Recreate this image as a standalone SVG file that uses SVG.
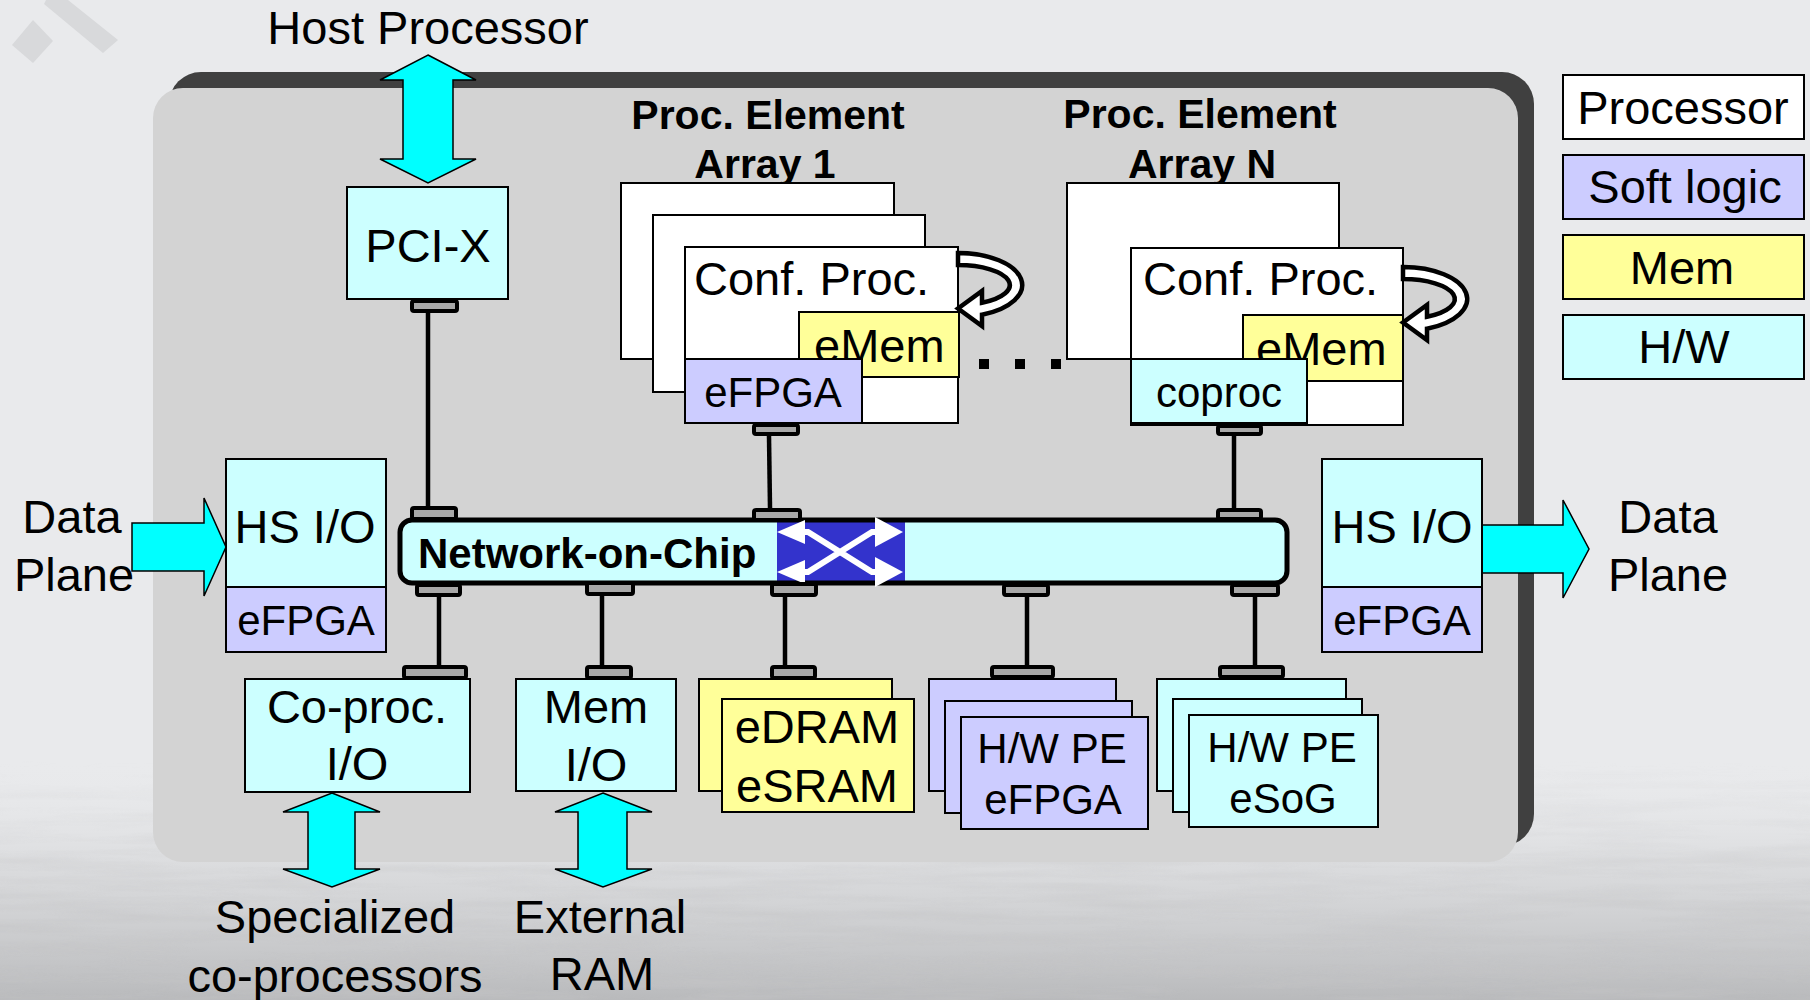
<svg xmlns="http://www.w3.org/2000/svg" width="1810" height="1000" viewBox="0 0 1810 1000">
<defs>
<style>
.t{font-family:"Liberation Sans",Arial,sans-serif;font-size:47px;fill:#000}
.m{text-anchor:middle}
.s{font-size:42px}
.b{font-weight:bold;font-size:41px}
.box{stroke:#000;stroke-width:2}
.w{fill:#fff}
.hw{fill:#ccffff}
.sl{fill:#ccccff}
.mem{fill:#ffff99}
.arr{fill:#00ffff;stroke:#000;stroke-width:1.5;stroke-linejoin:miter}
.ln{stroke:#000;stroke-width:4.5;fill:none}
.port{fill:#a8a8a8;stroke:#000;stroke-width:4}
.loop{fill:#fff;stroke:#000;stroke-width:4.5;stroke-linejoin:miter}
</style>
<linearGradient id="bgfade" x1="0" y1="0" x2="0" y2="1">
<stop offset="0" stop-color="#e9eaec" stop-opacity="0"/>
<stop offset="0.45" stop-color="#d4d5d7" stop-opacity="0.7"/>
<stop offset="1" stop-color="#b9babc" stop-opacity="1"/>
</linearGradient>
<filter id="noise" x="0" y="0" width="1" height="1">
<feTurbulence type="fractalNoise" baseFrequency="0.006 0.09" numOctaves="3" seed="7"/>
<feColorMatrix type="matrix" values="0 0 0 0 0.55  0 0 0 0 0.55  0 0 0 0 0.56  0 0 0 1.4 -0.55"/>
</filter>
<linearGradient id="nfade" x1="0" y1="0" x2="0" y2="1">
<stop offset="0" stop-color="#fff" stop-opacity="0"/>
<stop offset="1" stop-color="#fff" stop-opacity="1"/>
</linearGradient>
<mask id="nmask"><rect x="0" y="760" width="1810" height="240" fill="url(#nfade)"/></mask>
<path id="loopshape" class="loop" d="M958,253 A64,32 0 0 1 982,314.7 L982,326 L958,308.5 L982,291 L982,302.7 A52,20 0 0 0 958,265 Z"/>
</defs>

<!-- background -->
<rect x="0" y="0" width="1810" height="1000" fill="#e9eaec"/>
<rect x="0" y="760" width="1810" height="240" fill="url(#bgfade)"/>
<rect x="0" y="760" width="1810" height="240" filter="url(#noise)" mask="url(#nmask)"/>
<polygon points="12,45 33,20 53,41 33,63" fill="#d8d9db"/>
<polygon points="46,0 68,0 118,40 103,53 44,4" fill="#d8d9db"/>

<!-- chip panel -->
<g id="chip">
<rect x="169" y="72" width="1365" height="774" rx="32" fill="#404040"/>
<rect x="153" y="88" width="1365" height="774" rx="30" fill="#d3d3d3"/>
</g>

<!-- connectors -->
<g id="connectors">
<line class="ln" x1="428" y1="313" x2="428" y2="508"/>
<line class="ln" x1="769" y1="436" x2="770" y2="508"/>
<line class="ln" x1="1234" y1="436" x2="1234" y2="508"/>
<line class="ln" x1="439" y1="597" x2="439" y2="666"/>
<line class="ln" x1="602" y1="596" x2="602" y2="666"/>
<line class="ln" x1="785" y1="597" x2="785" y2="666"/>
<line class="ln" x1="1027" y1="597" x2="1027" y2="666"/>
<line class="ln" x1="1255" y1="597" x2="1255" y2="666"/>
</g>

<!-- Host processor -->
<g id="host">
<text class="t m" x="428" y="44">Host Processor</text>
<polygon class="arr" points="428,55 476,80 453,80 453,159 476,159 428,183 380,159 403,159 403,80 380,80"/>
</g>

<g id="pcix">
<rect class="box hw" x="347" y="187" width="161" height="112"/>
<text class="t m" x="428" y="262">PCI-X</text>
</g>

<!-- PE array 1 -->
<g id="pe-array-1">
<text class="t b m" x="768" y="129">Proc. Element</text>
<text class="t b m" x="765" y="178">Array 1</text>
<rect class="box w" x="621" y="183" width="273" height="176"/>
<rect class="box w" x="653" y="215" width="272" height="177"/>
<rect class="box w" x="685" y="247" width="273" height="176"/>
<text class="t" x="694" y="295">Conf. Proc.</text>
<rect class="box mem" x="799" y="312" width="160" height="65"/>
<text class="t" x="814" y="362">eMem</text>
<rect class="box sl" x="685" y="359" width="177" height="64"/>
<text class="t s m" x="773" y="407">eFPGA</text>
<use href="#loopshape"/>
</g>

<g id="dots">
<rect x="979" y="359" width="10" height="10" fill="#000"/>
<rect x="1015" y="359" width="10" height="10" fill="#000"/>
<rect x="1051" y="359" width="10" height="10" fill="#000"/>
</g>

<!-- PE array N -->
<g id="pe-array-n">
<text class="t b m" x="1200" y="128">Proc. Element</text>
<text class="t b m" x="1202" y="178">Array N</text>
<rect class="box w" x="1067" y="183" width="272" height="176"/>
<rect class="box w" x="1131" y="248" width="272" height="177"/>
<text class="t" x="1143" y="295">Conf. Proc.</text>
<rect class="box mem" x="1243" y="315" width="160" height="66"/>
<text class="t" x="1256" y="365">eMem</text>
<rect class="box hw" x="1131" y="359" width="176" height="64"/>
<text class="t s m" x="1219" y="407">coproc</text>
<use href="#loopshape" transform="translate(445,14)"/>
</g>

<!-- Network on chip -->
<g id="noc">
<rect x="400" y="520" width="887" height="63" rx="12" fill="#ccffff"/>
<rect x="777" y="522" width="128" height="61" fill="#3333cc"/>
<rect x="400" y="520" width="887" height="63" rx="12" fill="none" stroke="#000" stroke-width="5"/>
<path d="M790,532 H808 L872,572 H890 M790,572 H808 L872,532 H890" fill="none" stroke="#fff" stroke-width="6"/>
<polygon points="777,532 805,520 805,544" fill="#fff"/>
<polygon points="777,572 805,560 805,584" fill="#fff"/>
<polygon points="903,532 875,517 875,547" fill="#fff"/>
<polygon points="903,572 875,557 875,587" fill="#fff"/>
<text class="t" x="418" y="568" style="font-weight:bold;font-size:42px">Network-on-Chip</text>
</g>

<!-- ports -->
<g id="ports">
<rect class="port" x="412" y="301" width="45" height="10" rx="2"/>
<rect class="port" x="412" y="508" width="44" height="11" rx="2"/>
<rect class="port" x="754" y="425" width="44" height="9" rx="2"/>
<rect class="port" x="754" y="510" width="46" height="10" rx="2"/>
<rect class="port" x="1218" y="426" width="43" height="8" rx="2"/>
<rect class="port" x="1218" y="510" width="43" height="9" rx="2"/>
<rect class="port" x="417" y="585" width="43" height="10" rx="2"/>
<rect class="port" x="404" y="667" width="62" height="11" rx="2"/>
<rect class="port" x="587" y="583" width="46" height="11" rx="2"/>
<rect class="port" x="587" y="667" width="44" height="11" rx="2"/>
<rect class="port" x="772" y="584" width="44" height="11" rx="2"/>
<rect class="port" x="772" y="667" width="43" height="11" rx="2"/>
<rect class="port" x="1004" y="585" width="44" height="10" rx="2"/>
<rect class="port" x="992" y="667" width="61" height="10" rx="2"/>
<rect class="port" x="1232" y="585" width="46" height="10" rx="2"/>
<rect class="port" x="1220" y="667" width="63" height="10" rx="2"/>
</g>

<!-- HS I/O left -->
<g id="hsio-left">
<polygon class="arr" points="132,523 204,523 204,498 226,547 204,596 204,571 132,571"/>
<rect class="box hw" x="226" y="459" width="160" height="128"/>
<rect class="box sl" x="226" y="587" width="160" height="65"/>
<text class="t m" x="305" y="543">HS I/O</text>
<text class="t s m" x="306" y="635">eFPGA</text>
<text class="t m" x="72" y="533">Data</text>
<text class="t m" x="74" y="591">Plane</text>
</g>

<!-- HS I/O right -->
<g id="hsio-right">
<polygon class="arr" points="1482,525 1563,525 1563,500 1589,549 1563,598 1563,573 1482,573"/>
<rect class="box hw" x="1322" y="459" width="160" height="128"/>
<rect class="box sl" x="1322" y="587" width="160" height="65"/>
<text class="t m" x="1402" y="543">HS I/O</text>
<text class="t s m" x="1402" y="635">eFPGA</text>
<text class="t m" x="1668" y="533">Data</text>
<text class="t m" x="1668" y="591">Plane</text>
</g>

<!-- bottom row -->
<g id="coproc-io">
<rect class="box hw" x="245" y="679" width="225" height="113"/>
<text class="t m" x="357" y="723">Co-proc.</text>
<text class="t m" x="357" y="780">I/O</text>
<polygon class="arr" points="332,793 380,812 355,812 355,869 380,869 332,887 283,869 308,869 308,812 283,812"/>
<text class="t m" x="335" y="933">Specialized</text>
<text class="t m" x="335" y="992">co-processors</text>
</g>

<g id="mem-io">
<rect class="box hw" x="516" y="679" width="160" height="112"/>
<text class="t m" x="596" y="723">Mem</text>
<text class="t m" x="596" y="781">I/O</text>
<polygon class="arr" points="603,793 652,812 627,812 627,869 652,869 603,887 555,869 578,869 578,812 555,812"/>
<text class="t m" x="600" y="933">External</text>
<text class="t m" x="602" y="990">RAM</text>
</g>

<g id="edram">
<rect class="box mem" x="699" y="679" width="193" height="112"/>
<rect class="box mem" x="722" y="699" width="192" height="113"/>
<text class="t m" x="817" y="743">eDRAM</text>
<text class="t m" x="817" y="802">eSRAM</text>
</g>

<g id="hwpe-efpga">
<rect class="box sl" x="929" y="679" width="187" height="112"/>
<rect class="box sl" x="945" y="701" width="187" height="112"/>
<rect class="box sl" x="961" y="717" width="187" height="112"/>
<text class="t s m" x="1052" y="763">H/W PE</text>
<text class="t s m" x="1053" y="814">eFPGA</text>
</g>

<g id="hwpe-esog">
<rect class="box hw" x="1157" y="679" width="189" height="112"/>
<rect class="box hw" x="1173" y="699" width="189" height="113"/>
<rect class="box hw" x="1189" y="715" width="189" height="112"/>
<text class="t s m" x="1282" y="762">H/W PE</text>
<text class="t s m" x="1283" y="813">eSoG</text>
</g>

<!-- legend -->
<g id="legend">
<rect class="box w" x="1563" y="75" width="241" height="64"/>
<text class="t m" x="1683" y="124">Processor</text>
<rect class="box sl" x="1563" y="155" width="241" height="64"/>
<text class="t m" x="1685" y="203">Soft logic</text>
<rect class="box mem" x="1563" y="235" width="241" height="64"/>
<text class="t m" x="1682" y="284">Mem</text>
<rect class="box hw" x="1563" y="315" width="241" height="64"/>
<text class="t m" x="1684" y="363">H/W</text>
</g>
</svg>
